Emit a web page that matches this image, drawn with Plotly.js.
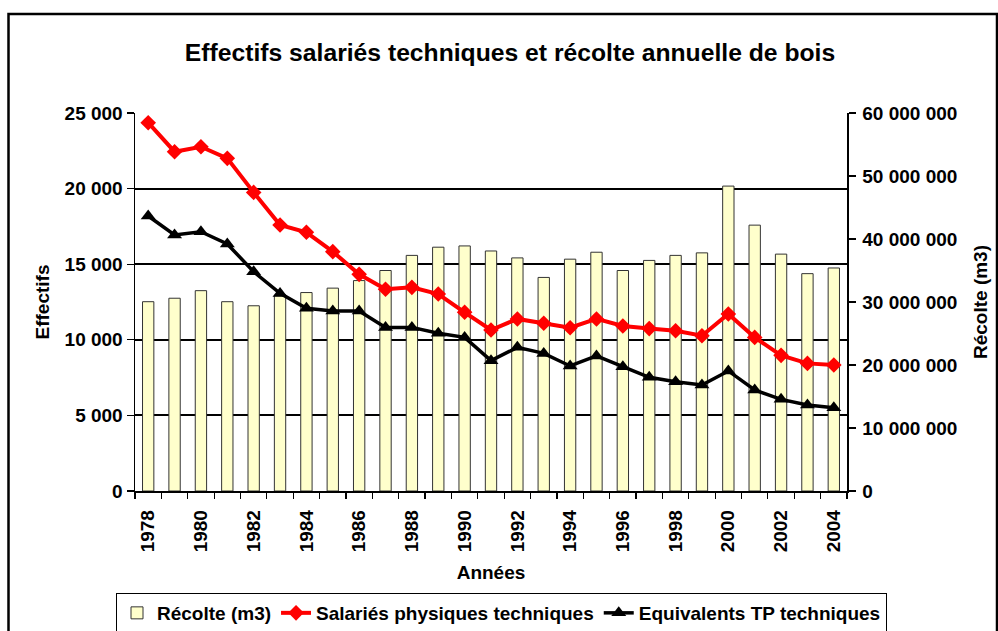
<!DOCTYPE html>
<html>
<head>
<meta charset="utf-8">
<script src="https://cdn.plot.ly/plotly-3.0.1.min.js"></script>
<style>
  html, body { margin: 0; padding: 0; background: #fff; }
  #chart { width: 998px; height: 631px; }
</style>
</head>
<body>
<div id="chart"></div>
<script>
// ---- Data ----
const years = [1978, 1979, 1980, 1981, 1982, 1983, 1984, 1985, 1986, 1987, 1988, 1989, 1990,
               1991, 1992, 1993, 1994, 1995, 1996, 1997, 1998, 1999, 2000, 2001, 2002, 2003, 2004];

const recolte = [30050000, 30600000, 31800000, 30050000, 29400000, 31000000, 31500000, 32200000,
                 33400000, 35000000, 37400000, 38700000, 38900000, 38100000, 37000000, 33900000,
                 36800000, 37900000, 35000000, 36600000, 37400000, 37800000, 48400000, 42200000,
                 37600000, 34500000, 35400000];

const salariesPhysiques = [24360, 22440, 22770, 22000, 19750, 17590, 17110, 15830, 14330, 13340,
                           13470, 13030, 11820, 10650, 11380, 11090, 10800, 11380, 10910, 10740,
                           10600, 10270, 11710, 10160, 8970, 8440, 8330];

const equivalentsTP = [18190, 16930, 17150, 16340, 14500, 13070, 12080, 11900, 11900, 10820,
                       10820, 10430, 10160, 8620, 9500, 9100, 8270, 8930, 8220, 7520,
                       7230, 7010, 7940, 6680, 6060, 5690, 5510];

const seriesNames = ["Récolte (m3)", "Salariés physiques techniques", "Equivalents TP techniques"];
const titleText = "Effectifs salariés techniques et récolte annuelle de bois";
const xTitle = "Années";
const yLeftTitle = "Effectifs";
const yRightTitle = "Récolte (m3)";

// ---- Layout geometry (pixels) ----
const W = 998, H = 631;
const M = { l: 135, r: 151, t: 113, b: 140, autoexpand: false };
const PW = W - M.l - M.r, PH = H - M.t - M.b;
const px = x => (x - M.l) / PW;
const py = y => (H - M.b - y) / PH;

const FONT = "Liberation Sans, Arial, sans-serif";
const FS = 19;

const traces = [
  {
    type: "bar", name: seriesNames[0], x: years, y: recolte, yaxis: "y",
    marker: { color: "#FFFFCC", line: { color: "#333333", width: 1 } },
    hoverinfo: "x+y"
  },
  {
    type: "scatter", mode: "lines+markers", name: seriesNames[1], x: years, y: salariesPhysiques, yaxis: "y2",
    line: { color: "#FF0000", width: 4 },
    marker: { symbol: "diamond", size: 12, color: "#FF0000" }
  },
  {
    type: "scatter", mode: "lines+markers", name: seriesNames[2], x: years, y: equivalentsTP, yaxis: "y2",
    line: { color: "#000000", width: 3.5 },
    marker: { symbol: "triangle-up", size: 13, color: "#000000" }
  }
];

const layout = {
  width: W, height: H,
  margin: M,
  paper_bgcolor: "#ffffff", plot_bgcolor: "#ffffff",
  separators: ", ",
  font: { family: FONT, size: FS, color: "#000" },
  showlegend: true,
  bargap: 0.57,
  title: {
    text: "<b>" + titleText + "</b>",
    font: { family: FONT, size: 24.7, color: "#000" },
    x: px(510), xref: "paper", xanchor: "center",
    y: 1 - 52 / H, yref: "container", yanchor: "middle"
  },
  xaxis: {
    type: "linear", range: [1977.5, 2004.5],
    tickmode: "linear", tick0: 1978, dtick: 2,
    tickangle: -90, ticks: "", ticklabelstandoff: 10,
    tickfont: { family: FONT, size: FS, color: "#000", weight: "bold" },
    showline: true, linecolor: "#000", linewidth: 1.5,
    showgrid: false, zeroline: false,
    minor: { tickmode: "linear", tick0: 1977.5, dtick: 1, ticks: "outside", ticklen: 6, tickcolor: "#000", tickwidth: 1.2, showgrid: false },
    title: { text: "<b>" + xTitle + "</b>", font: { family: FONT, size: FS, color: "#000" }, standoff: 14 },
    automargin: false
  },
  yaxis: {
    side: "right", range: [0, 60000000], tickmode: "linear", tick0: 0, dtick: 10000000,
    tickformat: ",d", ticks: "outside", ticklen: 7, tickcolor: "#000", tickwidth: 1.2, ticklabelstandoff: 3,
    tickfont: { family: FONT, size: FS, color: "#000", weight: "bold" },
    showline: true, linecolor: "#000", linewidth: 1.5,
    showgrid: false, zeroline: false,
    title: { text: "<b>" + yRightTitle + "</b>", font: { family: FONT, size: FS, color: "#000" }, standoff: 17 },
    automargin: false
  },
  yaxis2: {
    overlaying: "y", side: "left", range: [0, 25000], tickmode: "linear", tick0: 0, dtick: 5000,
    tickformat: ",d", ticks: "outside", ticklen: 7, tickcolor: "#000", tickwidth: 1.2,
    tickfont: { family: FONT, size: FS, color: "#000", weight: "bold" },
    showline: true, linecolor: "#000", linewidth: 1.5,
    showgrid: true, gridcolor: "#000", gridwidth: 2, zeroline: false,
    title: { text: "<b>" + yLeftTitle + "</b>", font: { family: FONT, size: FS, color: "#000" }, standoff: 10 },
    automargin: false
  },
  legend: {
    orientation: "h",
    xref: "paper", x: px(116), xanchor: "left",
    yref: "paper", y: py(593), yanchor: "top",
    bordercolor: "#000", borderwidth: 1, bgcolor: "#fff",
    font: { family: FONT, size: FS, color: "#000", weight: "bold" },
    traceorder: "normal", itemclick: false,
    itemwidth: 30, tracegroupgap: 0
  },
  shapes: [
    { type: "rect", xref: "paper", yref: "paper", x0: px(8.5), x1: px(997), y0: py(660), y1: py(14),
      line: { color: "#000", width: 2.5 }, fillcolor: "rgba(0,0,0,0)", layer: "below" }
  ]
};

Plotly.newPlot("chart", traces, layout, { displayModeBar: false, staticPlot: true });
</script>
</body>
</html>
